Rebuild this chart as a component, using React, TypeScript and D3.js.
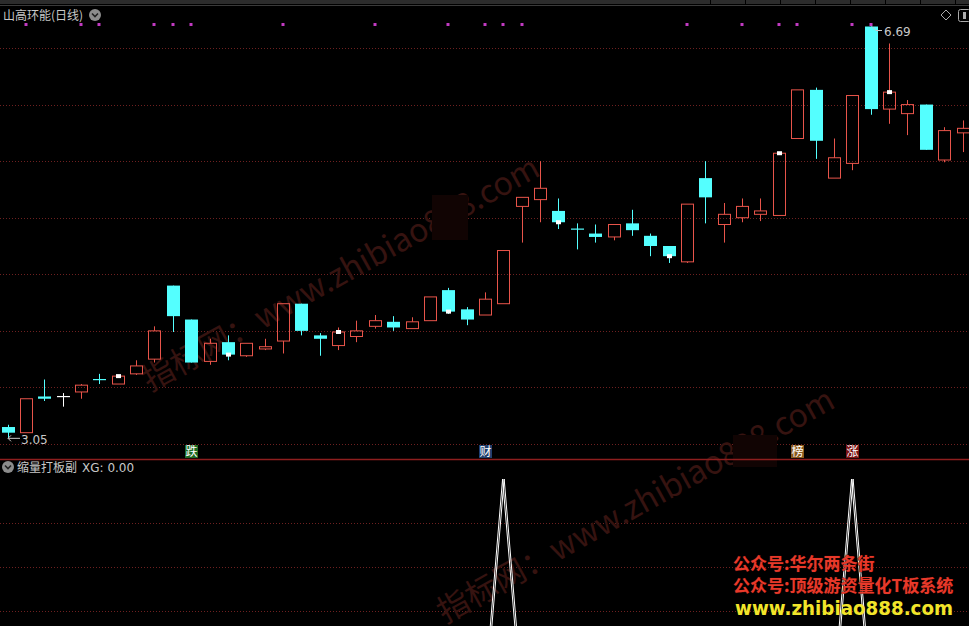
import * as d3 from "d3";

const W = 969;
const H = 626;

// daily candles
const opens = [3.15, 3.1, 3.42, 3.42, 3.46, 3.57, 3.53, 3.62, 3.75, 4.4, 4.1, 3.73, 3.9, 3.78, 3.84, 3.91, 4.24, 3.96, 3.87, 3.95, 4.04, 4.08, 4.02, 4.09, 4.36, 4.19, 4.14, 4.24, 5.1, 5.16, 5.06, 4.9, 4.86, 4.83, 4.95, 4.84, 4.75, 4.61, 5.35, 4.94, 5.0, 5.03, 5.02, 5.7, 6.13, 5.35, 5.48, 6.69, 5.96, 5.92, 6.0, 5.51, 5.75];
const highs = [3.17, 3.4, 3.57, 3.45, 3.53, 3.62, 3.6, 3.74, 4.04, 4.4, 4.1, 3.93, 3.96, 3.89, 3.93, 4.24, 4.24, 3.98, 4.03, 4.09, 4.14, 4.13, 4.12, 4.3, 4.38, 4.21, 4.34, 4.71, 5.18, 5.5, 5.17, 4.95, 4.94, 4.94, 5.07, 4.86, 4.75, 5.12, 5.5, 5.13, 5.17, 5.17, 5.57, 6.13, 6.15, 5.7, 6.08, 6.69, 6.54, 6.04, 6.0, 5.8, 5.86];
const lows = [3.05, 3.1, 3.38, 3.33, 3.4, 3.53, 3.53, 3.61, 3.72, 3.99, 3.72, 3.7, 3.74, 3.77, 3.83, 3.8, 3.96, 3.78, 3.83, 3.9, 4.02, 4.0, 4.02, 4.09, 4.15, 4.05, 4.14, 4.24, 4.78, 4.96, 4.9, 4.72, 4.78, 4.8, 4.84, 4.66, 4.6, 4.6, 4.95, 4.78, 4.96, 4.97, 5.02, 5.7, 5.52, 5.35, 5.42, 5.91, 5.83, 5.73, 5.6, 5.49, 5.58];
const closes = [3.1, 3.4, 3.4, 3.42, 3.52, 3.56, 3.6, 3.69, 4.0, 4.13, 3.72, 3.89, 3.79, 3.89, 3.86, 4.24, 4.0, 3.93, 3.99, 4.0, 4.09, 4.03, 4.08, 4.3, 4.17, 4.1, 4.28, 4.71, 5.18, 5.26, 4.96, 4.89, 4.83, 4.94, 4.89, 4.75, 4.66, 5.12, 5.18, 5.03, 5.1, 5.06, 5.57, 6.13, 5.68, 5.53, 6.08, 5.96, 6.11, 6.0, 5.6, 5.77, 5.79];

// magenta signal dots above the candles
const dotIdx = [1, 4, 5, 8, 9, 10, 15, 20, 24, 26, 27, 28, 37, 40, 42, 43, 46, 47];
// small white squares at the close
const markIdx = [6, 12, 18, 24, 30, 36, 42, 48];
// badges under the price panel
const badgeIdx = [10, 26, 43, 46];
const badgeText = ["跌", "财", "榜", "涨"];
const badgeFill = ["#1d6b24", "#1f3f6e", "#8a5a1c", "#7a1414"];
// lower indicator XG
const xg = closes.map((_, i) => (i === 27 || i === 46 ? 1 : 0));

const priceTicks = [3.0, 3.5, 4.0, 4.5, 5.0, 5.5, 6.0, 6.5];
const xgTicks = [0.8, 0.6, 0.4];

const UP = "#e8544a";
const DOWN = "#54ffff";
const GRID = "#6e2020";
const TXT = "#c8c8c8";

export default function App() {
  const n = closes.length;
  const x = d3.scaleLinear().domain([0, n - 1]).range([7.5, 962.5]);
  const y = d3.scaleLinear().domain([3.0, 6.5]).range([444, 48]);
  const yx = d3.scaleLinear().domain([0, 1]).range([699, 479]);

  const cx = (i: number) => Math.round(x(i));

  const xgLine = d3
    .line<number>()
    .x((_, i) => x(i))
    .y((d) => yx(d))(xg) ?? "";

  const candles = closes.map((c, i) => {
    const o = opens[i];
    const col = c > o ? UP : c < o ? DOWN : "#ffffff";
    const px = cx(i);
    const yo = y(o);
    const yc = y(c);
    const top = Math.min(yo, yc);
    const bot = Math.max(yo, yc);
    const yh = y(highs[i]);
    const yl = y(lows[i]);
    const wx = px + 0.5;
    if (c > o) {
      return (
        <g key={i}>
          <line x1={wx} x2={wx} y1={yh} y2={top} stroke={col} />
          <line x1={wx} x2={wx} y1={bot} y2={yl} stroke={col} />
          <rect x={px - 5.5} y={top} width={12} height={Math.max(bot - top, 1)} fill="none" stroke={col} />
        </g>
      );
    }
    if (c < o && bot - top >= 1.5) {
      return (
        <g key={i}>
          <line x1={wx} x2={wx} y1={yh} y2={yl} stroke={col} />
          <rect x={px - 6} y={top} width={13} height={bot - top} fill={col} />
        </g>
      );
    }
    return (
      <g key={i}>
        <line x1={wx} x2={wx} y1={yh} y2={yl} stroke={col} />
        <rect x={px - 6} y={top - 0.5} width={13} height={Math.max(bot - top, 1.2)} fill={col} />
      </g>
    );
  });

  const chevron = (ccx: number, ccy: number) => (
    <g>
      <circle cx={ccx} cy={ccy} r={6} fill="#8c8c8c" />
      <path d={`M${ccx - 3},${ccy - 1.5} L${ccx},${ccy + 1.5} L${ccx + 3},${ccy - 1.5}`} fill="none" stroke="#222" strokeWidth={1.6} />
    </g>
  );

  const wm = "指标网：www.zhibiao888.com";

  return (
    <div style={{ position: "fixed", left: 0, top: 0, width: W, height: H, background: "#000" }}>
      <svg width={W} height={H} style={{ display: "block", fontFamily: "'Noto Sans CJK SC', 'DejaVu Sans', sans-serif" }}>
        <defs>
          <clipPath id="lower">
            <rect x={0} y={461} width={W} height={H - 461} />
          </clipPath>
        </defs>
        <rect width={W} height={H} fill="#000" />

        {/* top tab strip */}
        <rect x={0} y={0} width={W} height={4} fill="#2c2c2c" />
        <line x1={0} x2={W} y1={5.5} y2={5.5} stroke="#3a3a3a" />
        {d3.range(710, W, 35).map((sx) => (
          <line key={sx} x1={sx + 0.5} x2={sx + 0.5} y1={0} y2={4} stroke="#000" />
        ))}

        {/* grid lines */}
        {priceTicks.map((t) => (
          <line key={t} x1={0} x2={W} y1={Math.round(y(t)) + 0.5} y2={Math.round(y(t)) + 0.5} stroke={GRID} strokeDasharray="1,2" />
        ))}
        {xgTicks.map((t) => (
          <line key={t} x1={0} x2={W} y1={Math.round(yx(t)) + 0.5} y2={Math.round(yx(t)) + 0.5} stroke={GRID} strokeDasharray="1,2" />
        ))}

        {/* watermarks */}
        <g fill="#361310" fontSize={32} fontFamily="'Noto Sans CJK SC', 'DejaVu Sans', sans-serif">
          <text transform="translate(150,392) rotate(-29)">{wm}</text>
          <text transform="translate(445,624) rotate(-29)">{wm}</text>
        </g>
        <rect x={432} y={195} width={36} height={45} fill="#110403" />
        <rect x={733} y={435} width={44} height={32} fill="#110403" />

        {/* candles */}
        {candles}

        {markIdx.map((i) => (
          <rect key={i} x={cx(i) - 2} y={y(closes[i]) - 2} width={5} height={4} fill="#ffffff" />
        ))}

        {dotIdx.map((i) => (
          <rect key={i} x={cx(i) - 1.5} y={23} width={3} height={3} fill="#c23ac2" />
        ))}

        {/* high / low labels */}
        <path d={`M${cx(47) + 1},${y(6.69)} L${cx(47) + 5},${y(6.69) + 4} L${cx(47) + 11},${y(6.69) + 4}`} fill="none" stroke={TXT} />
        <text x={cx(47) + 13} y={y(6.69) + 9} fill={TXT} fontSize={12} fontFamily="'DejaVu Sans', sans-serif">6.69</text>
        <path d={`M${cx(0)},${y(3.05)} L${cx(0) + 12},${y(3.05)} M${cx(0) + 3},${y(3.05) - 3} L${cx(0)},${y(3.05)} L${cx(0) + 3},${y(3.05) + 3}`} fill="none" stroke={TXT} />
        <text x={cx(0) + 13} y={y(3.05) + 6} fill={TXT} fontSize={12} fontFamily="'DejaVu Sans', sans-serif">3.05</text>

        {/* badges */}
        {badgeIdx.map((i, k) => (
          <g key={i}>
            <rect x={cx(i) - 6} y={445} width={13} height={13} fill={badgeFill[k]} />
            <text x={cx(i) + 0.5} y={456} textAnchor="middle" fill="#ffffff" fontSize={12}>{badgeText[k]}</text>
          </g>
        ))}

        {/* panel separator */}
        <line x1={0} x2={W} y1={459.5} y2={459.5} stroke="#8e1e1e" strokeWidth={1.5} />

        {/* XG spikes */}
        <g clipPath="url(#lower)" fill="none" stroke="#ffffff" strokeWidth={1}>
          <path d={xgLine} transform="translate(-0.8,0)" />
          <path d={xgLine} transform="translate(0.8,0)" />
        </g>

        {/* titles */}
        <text x={3} y={20} fill={TXT} fontSize={12}>山高环能(日线)</text>
        {chevron(95, 15)}
        {chevron(8, 467)}
        <text x={17} y={472} fill={TXT} fontSize={12}>缩量打板副</text>
        <text x={82} y={472} fill={TXT} fontSize={12} fontFamily="'DejaVu Sans', sans-serif">XG: 0.00</text>

        {/* top-right icons */}
        <path d="M946,10 L951,15 L946,20 L941,15 Z" fill="none" stroke="#aaaaaa" />
        <rect x={958.5} y={9.5} width={12} height={12} rx={2} fill="none" stroke="#aaaaaa" />
        <rect x={963} y={12} width={3} height={7} fill="#aaaaaa" />

        {/* overlay captions */}
        <g fontWeight={700} fontSize={17} fill="#e8392a" stroke="#3a0a05" strokeWidth={0.6} paintOrder="stroke">
          <text x={733} y={570}>公众号:华尔两条街</text>
          <text x={733} y={592}>公众号:顶级游资量化T板系统</text>
        </g>
        <text x={735} y={615} fontWeight={700} fontSize={20} fill="#f2e52a" textLength={218} lengthAdjust="spacingAndGlyphs" fontFamily="'DejaVu Sans', sans-serif">www.zhibiao888.com</text>
      </svg>
    </div>
  );
}
